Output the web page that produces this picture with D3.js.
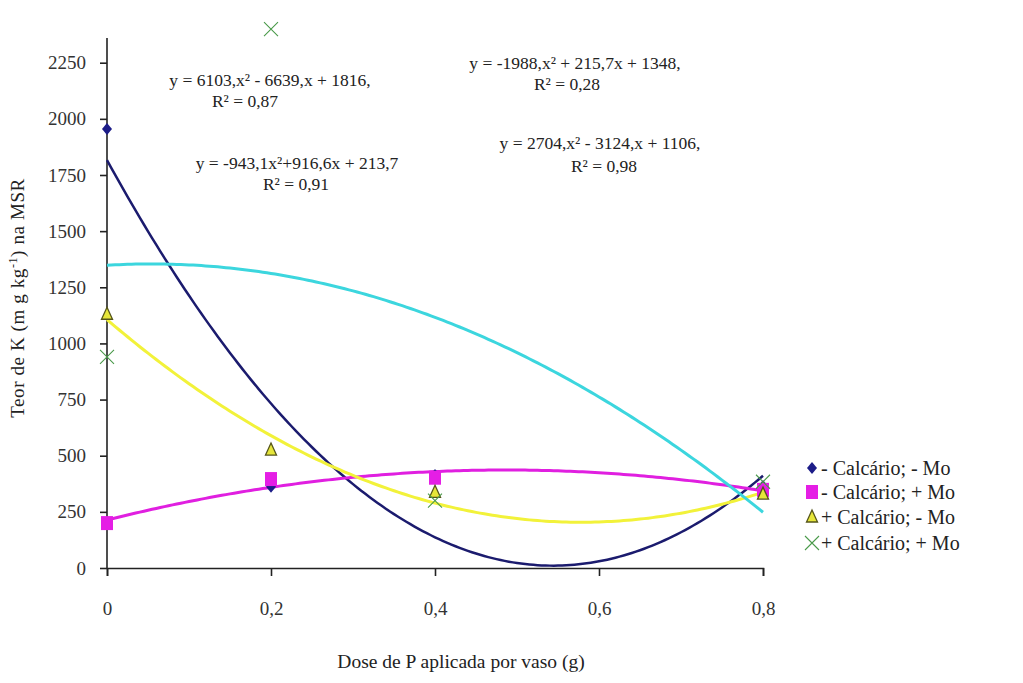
<!DOCTYPE html>
<html><head><meta charset="utf-8">
<script src="https://cdn.jsdelivr.net/npm/d3@7"></script>
<style>body{margin:0;background:#fff}svg{display:block}</style>
</head><body>
<svg id="c" width="1023" height="683"></svg>
<script>
const doses = [0, 0.2, 0.4, 0.8];
const xTicks = [0, 0.2, 0.4, 0.6, 0.8];
const xTickLabels = ["0", "0,2", "0,4", "0,6", "0,8"];
const yTicks = [0, 250, 500, 750, 1000, 1250, 1500, 1750, 2000, 2250];
const seriesNames = ["- Calcário; - Mo", "- Calcário; + Mo", "+ Calcário; - Mo", "+ Calcário; + Mo"];
const semCalcSemMo = [1955, 362, 414, 365];
const semCalcComMo = [200, 396, 402, 348];
const comCalcSemMo = [1130, 525, 337, 329];
const comCalcComMo = [940, 2400, 300, 384];
const coefSemCalcSemMo = [6103, -6639, 1816];
const coefSemCalcComMo = [-943.1, 916.6, 213.7];
const coefComCalcSemMo = [2704, -3124, 1106];
const coefComCalcComMo = [-1988, 215.7, 1348];
const eqLabels = [
  ["y = 6103,x² - 6639,x + 1816,", "R² = 0,87"],
  ["y = -943,1x²+916,6x + 213,7", "R² = 0,91"],
  ["y = 2704,x² - 3124,x + 1106,", "R² = 0,98"],
  ["y = -1988,x² + 215,7x + 1348,", "R² = 0,28"]
];

const FONT = "'Liberation Serif'";
const svg = d3.select("#c");
const x = d3.scaleLinear().domain([0, 0.8]).range([107, 763]);
const y = d3.scaleLinear().domain([0, 2360]).range([568, 38]);

const series = [
  {name: seriesNames[0], vals: semCalcSemMo, coef: coefSemCalcSemMo, color: "#1b1b6e", lw: 2.5, marker: "diamond"},
  {name: seriesNames[1], vals: semCalcComMo, coef: coefSemCalcComMo, color: "#e01fe0", lw: 3, marker: "square"},
  {name: seriesNames[2], vals: comCalcSemMo, coef: coefComCalcSemMo, color: "#f2f23a", lw: 3, marker: "triangle"},
  {name: seriesNames[3], vals: comCalcComMo, coef: coefComCalcComMo, color: "#3cd6de", lw: 3, marker: "x"}
];

// axes
const xAxis = d3.axisBottom(x).tickValues(xTicks).tickFormat((d,i)=>xTickLabels[i]).tickSize(8).tickPadding(26);
const yAxis = d3.axisLeft(y).tickValues(yTicks).tickFormat(d=>String(d)).tickSize(7).tickPadding(14);
const gx = svg.append("g").attr("transform","translate(0,568)").call(xAxis);
const gy = svg.append("g").attr("transform","translate(107,0)").call(yAxis);
[gx, gy].forEach(g=>{
  g.attr("font-family", FONT).attr("font-size", 19);
  g.select(".domain").attr("stroke","#222").attr("stroke-width",1.6);
  g.selectAll(".tick line").attr("stroke","#222").attr("stroke-width",1.6);
  g.selectAll("text").attr("font-family", FONT).attr("font-size", 19).attr("fill","#333");
});
gy.select(".domain").attr("d","M0,38V568");

// trend curves
const samples = d3.range(0, 0.8001, 0.005);
const line = d3.line().x(d=>x(d[0])).y(d=>y(d[1]));
series.forEach(s=>{
  const pts = samples.map(t=>[t, Math.max(0, s.coef[0]*t*t + s.coef[1]*t + s.coef[2])]);
  svg.append("path").datum(pts).attr("d", line).attr("fill","none")
    .attr("stroke", s.color).attr("stroke-width", s.lw);
});

function drawMarker(g, type, cx, cy) {
  if (type === "diamond") {
    g.append("path").attr("d", `M${cx},${cy-6}L${cx+5},${cy}L${cx},${cy+6}L${cx-5},${cy}Z`).attr("fill","#1c1c88");
  } else if (type === "square") {
    g.append("rect").attr("x", cx-6).attr("y", cy-7).attr("width", 12).attr("height", 14).attr("fill","#e51ee5");
  } else if (type === "triangle") {
    g.append("path").attr("d", `M${cx},${cy-7}L${cx+5.5},${cy+5}L${cx-5.5},${cy+5}Z`).attr("fill","#e6e63a").attr("stroke","#55551a").attr("stroke-width",1.3);
  } else {
    g.append("path").attr("d", `M${cx-7},${cy-7}L${cx+7},${cy+7}M${cx+7},${cy-7}L${cx-7},${cy+7}`).attr("stroke","#4a9a4a").attr("stroke-width",1.1).attr("fill","none");
  }
}
const pg = svg.append("g");
series.forEach(s=>{
  s.vals.forEach((v,i)=> drawMarker(pg, s.marker, x(doses[i]), y(v)));
});

// equations
const eqPos = [[270, 86, 245, 107], [297, 169, 296, 190], [600, 149, 604, 172], [575, 69, 567, 90]];
eqLabels.forEach((e,i)=>{
  const p = eqPos[i];
  svg.append("text").attr("x",p[0]).attr("y",p[1]).attr("text-anchor","middle").attr("font-family",FONT).attr("font-size",17.5).attr("fill","#222").text(e[0]);
  svg.append("text").attr("x",p[2]).attr("y",p[3]).attr("text-anchor","middle").attr("font-family",FONT).attr("font-size",17.5).attr("fill","#222").text(e[1]);
});

// legend
const lg = svg.append("g");
series.forEach((s,i)=>{
  const ly = [468, 492, 517, 543][i];
  drawMarker(lg, s.marker, 812, ly);
  lg.append("text").attr("x", 821).attr("y", ly+7).attr("font-family",FONT).attr("font-size",20).attr("fill","#222").text(s.name);
});

// axis titles
svg.append("text").attr("x",461).attr("y",668).attr("text-anchor","middle").attr("font-family",FONT).attr("font-size",19.5).attr("fill","#222").text("Dose de P aplicada por vaso  (g)");
const yt = svg.append("text").attr("transform","translate(24,298) rotate(-90)").attr("text-anchor","middle").attr("font-family",FONT).attr("font-size",19).attr("letter-spacing",0.6).attr("fill","#222");
yt.append("tspan").text("Teor  de K (m g kg");
yt.append("tspan").attr("dy",-7).attr("font-size",12).text("-1");
yt.append("tspan").attr("dy",7).text(") na MSR");
</script>
</body></html>
